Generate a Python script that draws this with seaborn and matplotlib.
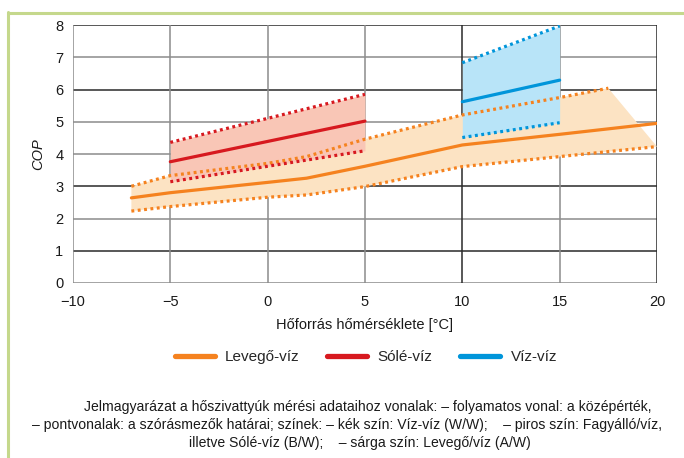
import numpy as np
import pandas as pd
import matplotlib
matplotlib.use("Agg")
import matplotlib.pyplot as plt
from matplotlib.lines import Line2D
import seaborn as sns

# data
air_x = [-7, -5, 0, 2, 5, 10, 15, 20]
air_mid = [2.64, 2.80, 3.12, 3.25, 3.62, 4.28, 4.61, 4.95]
air_up_x = [-7, -5, 0, 2, 5, 10, 15, 17.5]
air_up = [3.0, 3.33, 3.71, 3.92, 4.46, 5.21, 5.75, 6.04]
air_lo_x = [-7, -5, 0, 2, 5, 10, 15, 20]
air_lo = [2.23, 2.37, 2.66, 2.73, 2.99, 3.61, 3.92, 4.23]

brine_x = [-5, 5]
brine_mid = [3.76, 5.02]
brine_up = [4.36, 5.85]
brine_lo = [3.14, 4.10]

water_x = [10, 15]
water_mid = [5.62, 6.29]
water_up = [6.83, 7.97]
water_lo = [4.51, 4.97]

labels = ["Levegő-víz", "Sólé-víz", "Víz-víz"]
line_colors = ["#F5821F", "#D7191F", "#0095DA"]
fill_colors = ["#FCE3C3", "#F9C6B6", "#B8E4F8"]

caption = [
    "Jelmagyarázat a hőszivattyúk mérési adataihoz vonalak: – folyamatos vonal: a középérték,",
    "– pontvonalak: a szórásmezők határai; színek: – kék szín: Víz-víz (W/W);    – piros szín: Fagyálló/víz,",
    "illetve Sólé-víz (B/W);    – sárga szín: Levegő/víz (A/W)",
]
caption_x = [368, 347, 360]

sns.set_style("white")
plt.rcParams["font.family"] = ["Liberation Sans", "DejaVu Sans"]

fig = plt.figure(figsize=(6.84, 4.58), dpi=100)
ax = fig.add_axes([0.1067, 0.3821, 0.8538, 0.5633])

# shaded spread areas
poly_x = air_up_x + air_lo_x[::-1]
poly_y = air_up + air_lo[::-1]
ax.fill(poly_x, poly_y, color=fill_colors[0], lw=0, zorder=1)
ax.fill_between(brine_x, brine_lo, brine_up, color=fill_colors[1], lw=0, zorder=2)
ax.fill_between(water_x, water_lo, water_up, color=fill_colors[2], lw=0, zorder=2)

# mean lines
mid = pd.DataFrame({
    "x": air_x + brine_x + water_x,
    "cop": air_mid + brine_mid + water_mid,
    "kind": [labels[0]] * len(air_x) + [labels[1]] * 2 + [labels[2]] * 2,
})
sns.lineplot(data=mid, x="x", y="cop", hue="kind", palette=line_colors,
             lw=2.3, legend=False, ax=ax, zorder=5)

# dotted bounds
dot = dict(ls=(0, (0.9, 1.1)), lw=2.3, dash_capstyle="butt", zorder=4)
ax.plot(air_up_x, air_up, color=line_colors[0], **dot)
ax.plot(air_lo_x, air_lo, color=line_colors[0], **dot)
ax.plot(brine_x, brine_up, color=line_colors[1], **dot)
ax.plot(brine_x, brine_lo, color=line_colors[1], **dot)
ax.plot(water_x, water_up, color=line_colors[2], **dot)
ax.plot(water_x, water_lo, color=line_colors[2], **dot)

ax.set_xlim(-10, 20)
ax.set_ylim(0, 8)
ax.set_xticks(range(-10, 21, 5))
ax.set_yticks(range(0, 9))
ax.set_xticklabels(["\u221210", "\u22125", "0", "5", "10", "15", "20"])

# grid: mix of dark and grey rules like the original
dark, grey = "#2a2a2a", "#8c8c8c"
for v, c in zip(range(0, 9), [grey, dark, grey, dark, grey, grey, dark, grey, dark]):
    ax.axhline(v, color=c, lw=1.1, zorder=0.5)
for v, c in zip(range(-10, 21, 5), [grey, grey, grey, grey, dark, grey, dark]):
    ax.axvline(v, color=c, lw=1.1, zorder=0.5)
for s in ax.spines.values():
    s.set_visible(False)

ax.tick_params(axis="both", length=3, width=1, color=grey, labelsize=10.5,
               labelcolor="#1a1a1a", pad=4, direction="out")
ax.tick_params(axis="x", pad=6)
ax.set_xlabel("Hőforrás hőmérséklete [°C]", fontsize=10.5, color="#1a1a1a", labelpad=6)
ax.set_ylabel("COP", fontsize=10.5, style="italic", color="#1a1a1a", labelpad=7)

handles = [Line2D([], [], color=c, lw=3.8) for c in line_colors]
fig.legend(handles, labels, loc="center", bbox_to_anchor=(0.535, 0.22), ncol=3,
           frameon=False, fontsize=11, handlelength=2.6, handletextpad=0.7,
           columnspacing=1.8)

for i, line in enumerate(caption):
    fig.text(caption_x[i] / 684, 1 - (407 + 18 * i) / 458, line, ha="center",
             va="center", fontsize=10.1, color="#1a1a1a")

# green frame on top and left
fig.add_artist(Line2D([7.5 / 684, 1], [1 - 13 / 458, 1 - 13 / 458],
                      color="#C5D88C", lw=2.2, transform=fig.transFigure))
fig.add_artist(Line2D([8 / 684, 8 / 684], [0, 1 - 12 / 458],
                      color="#C5D88C", lw=2.2, transform=fig.transFigure))

fig.savefig("out.png", dpi=100)
